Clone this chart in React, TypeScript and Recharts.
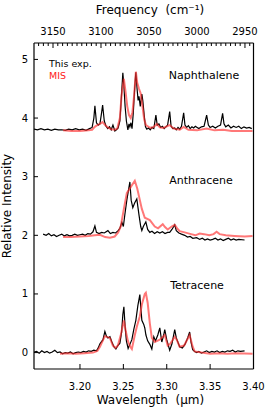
import React from "react";
import { LineChart, Line, XAxis, YAxis } from "recharts";

// Naphthalene (offset +3.8) — this experiment
const naphExp: [number, number][] = [
  [3.147, 3.81], [3.151, 3.8], [3.155, 3.82], [3.159, 3.8], [3.163, 3.81], [3.167, 3.79], [3.171, 3.81],
  [3.175, 3.8], [3.179, 3.8], [3.183, 3.79], [3.187, 3.81], [3.191, 3.8], [3.195, 3.82], [3.199, 3.8],
  [3.203, 3.81], [3.207, 3.79], [3.211, 3.82], [3.214, 3.84], [3.216, 4.0], [3.2172, 4.21], [3.219, 3.92],
  [3.221, 3.88], [3.223, 3.9], [3.2245, 4.05], [3.2261, 4.22], [3.228, 3.95], [3.23, 3.86], [3.232, 3.82],
  [3.234, 3.85], [3.236, 3.8], [3.238, 3.88], [3.2402, 3.78], [3.242, 3.8], [3.244, 3.83], [3.246, 3.95],
  [3.2475, 4.3], [3.2494, 4.77], [3.2506, 4.55], [3.252, 4.2], [3.2535, 3.95], [3.2552, 3.8], [3.2565, 3.9],
  [3.2575, 3.85], [3.2587, 3.92], [3.26, 3.82], [3.2615, 4.1], [3.263, 4.5], [3.2644, 4.78], [3.2658, 4.5],
  [3.267, 4.3], [3.268, 4.37], [3.2695, 4.2], [3.2713, 4.41], [3.2724, 4.3], [3.274, 4.05], [3.2755, 3.85],
  [3.277, 3.81], [3.279, 3.83], [3.281, 3.8], [3.283, 3.84], [3.2851, 3.82], [3.2875, 4.05], [3.289, 3.88],
  [3.291, 3.9], [3.293, 3.84], [3.295, 3.86], [3.297, 3.82], [3.299, 3.85], [3.301, 3.88], [3.3034, 4.11],
  [3.305, 3.86], [3.307, 3.82], [3.309, 3.83], [3.311, 3.8], [3.313, 3.84], [3.315, 3.81], [3.317, 3.86],
  [3.3195, 4.09], [3.321, 3.88], [3.323, 3.84], [3.325, 3.87], [3.327, 3.82], [3.329, 3.85], [3.331, 3.83],
  [3.333, 3.86], [3.335, 3.84], [3.337, 3.82], [3.34, 3.85], [3.343, 3.86], [3.346, 4.05], [3.348, 3.88],
  [3.35, 3.84], [3.353, 3.86], [3.356, 3.83], [3.359, 3.86], [3.362, 3.88], [3.3644, 4.08], [3.366, 3.9],
  [3.368, 3.85], [3.371, 3.88], [3.374, 3.83], [3.377, 3.86], [3.38, 3.84], [3.383, 3.86], [3.386, 3.82],
  [3.389, 3.85], [3.392, 3.83], [3.395, 3.84], [3.398, 3.82],
];

// Naphthalene — MIS
const naphMIS: [number, number][] = [
  [3.1805, 3.79], [3.19, 3.78], [3.2, 3.78], [3.21, 3.79], [3.214, 3.8], [3.217, 3.85], [3.22, 3.88],
  [3.223, 3.9], [3.226, 3.93], [3.229, 3.88], [3.232, 3.84], [3.236, 3.81], [3.24, 3.8], [3.243, 3.82],
  [3.246, 4.0], [3.248, 4.4], [3.2506, 4.67], [3.2525, 4.45], [3.2545, 4.2], [3.2565, 4.05], [3.2585, 4.0],
  [3.2605, 4.1], [3.2625, 4.4], [3.2644, 4.79], [3.266, 4.6], [3.268, 4.5], [3.27, 4.42], [3.272, 4.2],
  [3.274, 3.98], [3.276, 3.88], [3.279, 3.85], [3.282, 3.83], [3.285, 3.85], [3.2885, 3.9], [3.292, 3.84],
  [3.296, 3.83], [3.3034, 3.88], [3.308, 3.82], [3.315, 3.8], [3.3195, 3.85], [3.325, 3.8], [3.335, 3.79],
  [3.346, 3.82], [3.355, 3.79], [3.365, 3.8], [3.375, 3.78], [3.385, 3.78], [3.3989, 3.78],
];

// Anthracene (offset +2) — this experiment
const anthExp: [number, number][] = [
  [3.1575, 2.02], [3.161, 2.0], [3.164, 2.03], [3.167, 1.99], [3.17, 2.01], [3.173, 1.98], [3.176, 2.0],
  [3.179, 2.02], [3.182, 1.99], [3.185, 2.01], [3.188, 1.99], [3.191, 2.0], [3.194, 2.02], [3.197, 2.0],
  [3.2, 2.01], [3.203, 2.02], [3.206, 2.0], [3.209, 2.03], [3.212, 2.02], [3.215, 2.06], [3.2172, 2.16],
  [3.219, 2.05], [3.222, 2.03], [3.225, 2.05], [3.228, 2.04], [3.2322, 2.08], [3.235, 2.03], [3.238, 2.05],
  [3.241, 2.04], [3.244, 2.08], [3.246, 2.12], [3.2483, 2.22], [3.25, 2.15], [3.2517, 2.35], [3.254, 2.6],
  [3.2575, 2.91], [3.259, 2.6], [3.2609, 2.47], [3.263, 2.55], [3.2655, 2.62], [3.268, 2.35], [3.27, 2.15],
  [3.2713, 2.08], [3.273, 2.15], [3.2759, 2.23], [3.278, 2.1], [3.2805, 2.05], [3.283, 2.07], [3.286, 2.03],
  [3.289, 2.06], [3.292, 2.04], [3.295, 2.06], [3.298, 2.03], [3.301, 2.05], [3.3034, 2.05], [3.306, 2.1],
  [3.3092, 2.18], [3.311, 2.08], [3.314, 2.04], [3.317, 2.02], [3.3207, 2.0], [3.324, 1.97], [3.327, 1.98],
  [3.33, 1.95], [3.3345, 1.96], [3.338, 1.93], [3.341, 1.95], [3.344, 1.92], [3.347, 1.94], [3.35, 1.92],
  [3.353, 1.93], [3.356, 1.95], [3.359, 1.92], [3.362, 1.94], [3.365, 1.91], [3.368, 1.93], [3.371, 1.95],
  [3.374, 1.92], [3.377, 1.94], [3.38, 1.92], [3.383, 1.93], [3.3897, 1.92],
];

// Anthracene — MIS
const anthMIS: [number, number][] = [
  [3.1805, 1.97], [3.19, 1.97], [3.2, 1.98], [3.21, 1.99], [3.217, 2.0], [3.223, 2.01], [3.229, 1.97],
  [3.2345, 1.96], [3.24, 1.98], [3.244, 2.05], [3.247, 2.15], [3.2506, 2.45], [3.254, 2.72], [3.2575, 2.8],
  [3.2632, 2.93], [3.266, 2.8], [3.269, 2.6], [3.2713, 2.45], [3.2747, 2.3], [3.2805, 2.26], [3.2862, 2.15],
  [3.29, 2.12], [3.2954, 2.19], [3.298, 2.14], [3.3011, 2.1], [3.3057, 2.15], [3.3092, 2.18], [3.312, 2.12],
  [3.3149, 2.07], [3.3207, 2.05], [3.328, 2.02], [3.333, 2.0], [3.338, 2.03], [3.343, 2.02], [3.349, 2.0],
  [3.354, 2.02], [3.3575, 2.06], [3.361, 2.02], [3.368, 2.0], [3.378, 1.99], [3.39, 1.98], [3.3989, 1.99],
];

// Tetracene (offset 0) — this experiment
const tetExp: [number, number][] = [
  [3.1471, 0.01], [3.15, 0.02], [3.153, -0.01], [3.156, 0.03], [3.159, 0.0], [3.162, 0.02], [3.165, -0.01],
  [3.168, 0.01], [3.171, 0.04], [3.174, 0.0], [3.177, 0.01], [3.18, -0.02], [3.183, 0.0], [3.186, -0.01],
  [3.189, 0.01], [3.192, -0.02], [3.195, 0.0], [3.198, 0.01], [3.201, 0.0], [3.204, 0.02], [3.207, 0.01],
  [3.21, 0.03], [3.213, 0.02], [3.216, 0.04], [3.219, 0.03], [3.221, 0.08], [3.223, 0.15], [3.2265, 0.22],
  [3.2287, 0.36], [3.2305, 0.28], [3.2322, 0.25], [3.2345, 0.27], [3.2368, 0.18], [3.2391, 0.1],
  [3.2414, 0.06], [3.2437, 0.12], [3.246, 0.16], [3.248, 0.35], [3.2494, 0.65], [3.2506, 0.78],
  [3.252, 0.45], [3.2535, 0.2], [3.2555, 0.07], [3.2575, 0.14], [3.2598, 0.22], [3.2621, 0.4],
  [3.2644, 0.55], [3.2667, 0.8], [3.269, 0.99], [3.2702, 0.75], [3.2713, 0.55], [3.2735, 0.48],
  [3.2747, 0.42], [3.276, 0.3], [3.278, 0.2], [3.2805, 0.14], [3.2828, 0.06], [3.2851, 0.27], [3.287, 0.2],
  [3.2897, 0.3], [3.292, 0.42], [3.2943, 0.18], [3.2965, 0.3], [3.2977, 0.39], [3.3, 0.22], [3.3034, 0.04],
  [3.306, 0.15], [3.3092, 0.39], [3.311, 0.25], [3.3149, 0.1], [3.318, 0.08], [3.321, 0.14], [3.3241, 0.25],
  [3.3264, 0.35], [3.328, 0.18], [3.3299, 0.05], [3.3322, 0.02], [3.3345, 0.0], [3.337, 0.02],
  [3.34, -0.01], [3.343, 0.01], [3.346, 0.03], [3.349, 0.0], [3.352, 0.02], [3.355, 0.01], [3.358, 0.03],
  [3.361, 0.0], [3.364, 0.02], [3.367, 0.01], [3.37, 0.03], [3.373, 0.02], [3.376, 0.04], [3.379, 0.01],
  [3.382, 0.03], [3.385, 0.02], [3.3897, 0.03],
];

// Tetracene — MIS
const tetMIS: [number, number][] = [
  [3.177, -0.02], [3.185, -0.01], [3.195, -0.02], [3.205, -0.01], [3.215, 0.0], [3.22, 0.03], [3.223, 0.1],
  [3.2287, 0.28], [3.2345, 0.25], [3.2379, 0.12], [3.241, 0.08], [3.2437, 0.12], [3.247, 0.3],
  [3.2506, 0.55], [3.253, 0.35], [3.2552, 0.2], [3.258, 0.1], [3.2598, 0.06], [3.2632, 0.3],
  [3.2655, 0.44], [3.269, 0.62], [3.2713, 0.82], [3.2747, 1.0], [3.2759, 1.02], [3.278, 0.85],
  [3.2805, 0.5], [3.2828, 0.25], [3.2862, 0.18], [3.292, 0.22], [3.2977, 0.3], [3.3011, 0.12],
  [3.304, 0.15], [3.3092, 0.27], [3.3115, 0.22], [3.3149, 0.1], [3.32, 0.12], [3.3264, 0.3],
  [3.3299, 0.1], [3.3322, 0.02], [3.34, 0.0], [3.35, -0.02], [3.36, -0.01], [3.37, -0.02], [3.38, -0.01],
  [3.3989, -0.02],
];

const yTicks = [0, 1, 2, 3, 4, 5];
const wlTicks = [3.2, 3.25, 3.3, 3.35, 3.4];
const freqMajor = [3150, 3100, 3050, 3000, 2950];
const freqTicks = [
  3165, 3160, 3155, 3150, 3145, 3140, 3135, 3130, 3125, 3120, 3115, 3110, 3105, 3100, 3095, 3090, 3085,
  3080, 3075, 3070, 3065, 3060, 3055, 3050, 3045, 3040, 3035, 3030, 3025, 3020, 3015, 3010, 3005, 3000,
  2995, 2990, 2985, 2980, 2975, 2970, 2965, 2960, 2955, 2950, 2945,
];

const blackSeries = [naphExp, anthExp, tetExp];
const redSeries = [naphMIS, anthMIS, tetMIS];
const labels = [
  { text: "Naphthalene", x: 204, y: 78.5 },
  { text: "Anthracene", x: 201, y: 183.5 },
  { text: "Tetracene", x: 197, y: 288.5 },
];

const toPts = (arr: [number, number][]) => arr.map(([x, y]) => ({ x, y }));

const FONT = "DejaVu Sans, sans-serif";
const TOP_MARGIN = 13;

const TopTick = (props: any) => {
  const { x, y, payload } = props;
  const v = payload.value as number;
  const major = freqMajor.includes(v);
  const axisY = y + TOP_MARGIN;
  return (
    <g>
      <line x1={x} x2={x} y1={axisY} y2={axisY + (major ? 5 : 3)} stroke="#000" strokeWidth={1} />
      {major && (
        <text x={x} y={axisY - 8} textAnchor="middle" fontSize={10} fontFamily={FONT} fill="#000">
          {v}
        </text>
      )}
    </g>
  );
};

export default function App() {
  const tickStyle = { fontSize: 10, fill: "#000", fontFamily: FONT };
  const axisLine = { stroke: "#000", strokeWidth: 1.2 };
  const tickLine = { stroke: "#000", strokeWidth: 1 };
  return (
    <div style={{ position: "absolute", left: 0, top: 0, width: 277, height: 409, background: "#fff" }}>
      <LineChart width={277} height={409} margin={{ top: 13, right: 13.5, bottom: 10, left: 4 }}>
        <XAxis
          xAxisId="bottom"
          type="number"
          dataKey="x"
          orientation="bottom"
          domain={[3.147, 3.4]}
          allowDataOverflow
          ticks={wlTicks}
          interval={0}
          height={30}
          tickSize={-5}
          tickMargin={19}
          tickFormatter={(v: number) => v.toFixed(2)}
          tick={tickStyle}
          axisLine={axisLine}
          tickLine={tickLine}
        />
        <XAxis
          xAxisId="top"
          type="number"
          dataKey="f"
          orientation="top"
          domain={[2941.1, 3169.8]}
          reversed
          allowDataOverflow
          ticks={freqTicks}
          interval={0}
          height={30}
          tickSize={0}
          tickMargin={TOP_MARGIN}
          tick={<TopTick />}
          axisLine={axisLine}
          tickLine={false}
        />
        <YAxis
          yAxisId="left"
          type="number"
          domain={[-0.28, 5.28]}
          allowDataOverflow
          ticks={yTicks}
          interval={0}
          width={30}
          tickSize={-4}
          tickMargin={10}
          tick={tickStyle}
          axisLine={axisLine}
          tickLine={tickLine}
        />
        <YAxis
          yAxisId="right"
          orientation="right"
          type="number"
          domain={[-0.28, 5.28]}
          allowDataOverflow
          ticks={yTicks}
          interval={0}
          width={10}
          tickSize={-5}
          tick={false}
          axisLine={axisLine}
          tickLine={tickLine}
        />
        {blackSeries.map((s, i) => (
          <Line
            key={"b" + i}
            data={toPts(s)}
            dataKey="y"
            xAxisId="bottom"
            yAxisId="left"
            type="linear"
            stroke="#000"
            strokeWidth={1.2}
            dot={false}
            isAnimationActive={false}
          />
        ))}
        {redSeries.map((s, i) => (
          <Line
            key={"r" + i}
            data={toPts(s)}
            dataKey="y"
            xAxisId="bottom"
            yAxisId="left"
            type="linear"
            stroke="#ff3030"
            strokeOpacity={0.65}
            strokeWidth={2}
            dot={false}
            isAnimationActive={false}
          />
        ))}
        {labels.map((l) => (
          <text key={l.text} x={l.x} y={l.y} textAnchor="middle" fontSize={11} fontFamily={FONT} fill="#000">
            {l.text}
          </text>
        ))}
        <text x={49} y={67} fontSize={9.5} fontFamily={FONT} fill="#000">This exp.</text>
        <text x={49} y={78.5} fontSize={9.5} fontFamily={FONT} fill="#ff2020">MIS</text>
        <text x={150} y={14} textAnchor="middle" fontSize={12} fontFamily={FONT} fill="#000">
          {"Frequency\u00a0\u00a0(cm\u207b\u00b9)"}
        </text>
        <text x={150.5} y={404} textAnchor="middle" fontSize={12} fontFamily={FONT} fill="#000">
          {"Wavelength\u00a0\u00a0(\u03bcm)"}
        </text>
        <text
          x={10.5}
          y={206}
          textAnchor="middle"
          fontSize={12}
          fontFamily={FONT}
          fill="#000"
          transform="rotate(-90 10.5 206)"
        >
          Relative Intensity
        </text>
      </LineChart>
    </div>
  );
}
